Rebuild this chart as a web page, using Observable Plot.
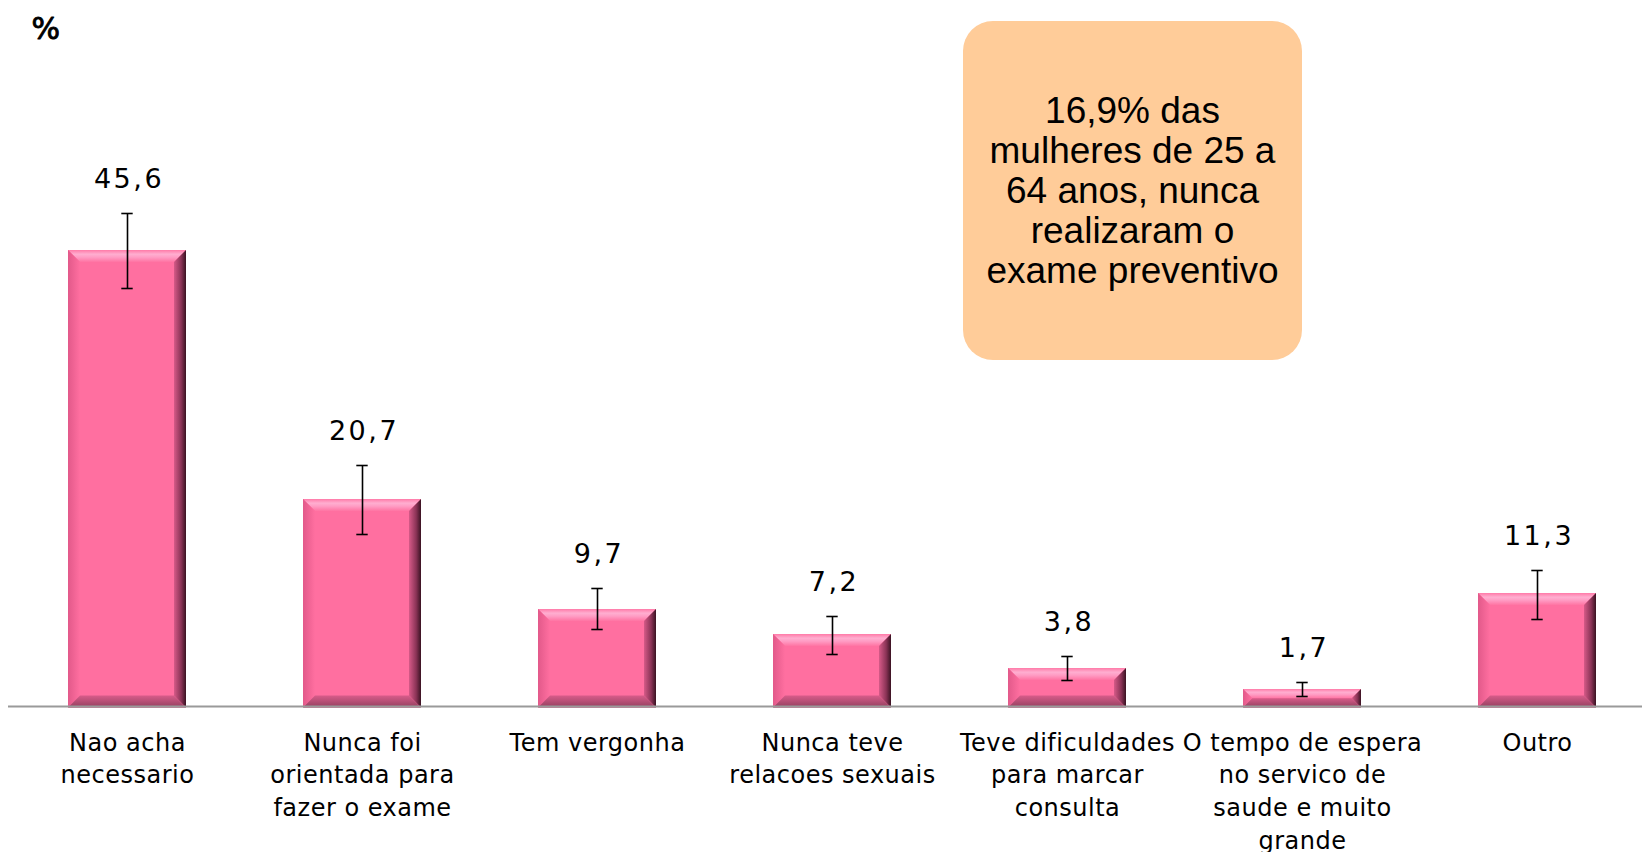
<!DOCTYPE html>
<html>
<head>
<meta charset="utf-8">
<script src="https://cdn.jsdelivr.net/npm/d3@7"></script>
<script src="https://cdn.jsdelivr.net/npm/@observablehq/plot@0.6"></script>
<style>
  body { margin: 0; background: #fff; }
  #wrap { position: relative; width: 1642px; height: 852px; overflow: hidden; }
  #note {
    position: absolute; left: 963px; top: 21px; width: 339px; height: 339px;
    border-radius: 30px; background: #FFCC99;
    display: flex; align-items: center; justify-content: center; text-align: center;
    font-family: "Liberation Sans", Arial, sans-serif; font-size: 37px; line-height: 40px; color: #000;
  }
</style>
</head>
<body>
<div id="wrap"><div id="note"></div></div>
<script>
// ---- data ----
const categories = [
  "Nao acha\nnecessario",
  "Nunca foi\norientada para\nfazer o exame",
  "Tem vergonha",
  "Nunca teve\nrelacoes sexuais",
  "Teve dificuldades\npara marcar\nconsulta",
  "O tempo de espera\nno servico de\nsaude e muito\ngrande",
  "Outro"
];
const values = [45.6, 20.7, 9.7, 7.2, 3.8, 1.7, 11.3];
const lower  = [41.8, 17.2, 7.7, 5.2, 2.6, 1.0, 8.7];
const upper  = [49.3, 24.1, 11.8, 9.0, 5.0, 2.4, 13.6];
const unitLabel = "%";
const noteLines = ["16,9% das", "mulheres de 25 a", "64 anos, nunca", "realizaram o", "exame preventivo"];

const data = categories.map((c, i) => ({cat: c, value: values[i], lo: lower[i], hi: upper[i]}));
const fmt = v => v.toFixed(1).replace(".", ",");

document.getElementById("note").innerHTML = noteLines.join("<br>");

const chart = Plot.plot({
  width: 1642,
  height: 852,
  margin: 0,
  style: {background: "transparent", fontFamily: "'DejaVu Sans', Verdana, sans-serif", color: "#000"},
  x: {type: "band", domain: categories, range: [8.35, 1655.5], paddingInner: 0.5, paddingOuter: 0.25, axis: null},
  y: {domain: [0, 70.6], range: [706, 0], axis: null},
  marks: [
    Plot.barY(data, {x: "cat", y: "value", fill: "#FF6FA0", insetBottom: -1.5}),
    Plot.ruleY([0], {stroke: "#9a9a9a", strokeWidth: 2, insetLeft: 8}),
    Plot.ruleX(data, {x: "cat", y1: "lo", y2: "hi", stroke: "#000", strokeWidth: 1.6}),
    Plot.tickY(data, {x: "cat", y: "lo", stroke: "#000", strokeWidth: 1.6, insetLeft: 53.3, insetRight: 53.3}),
    Plot.tickY(data, {x: "cat", y: "hi", stroke: "#000", strokeWidth: 1.6, insetLeft: 53.3, insetRight: 53.3}),
    Plot.text(data, {x: "cat", y: "hi", text: d => fmt(d.value), dy: -34, dx: 1.5, fontSize: 27, fill: "#000"}),
    Plot.text(data, {x: "cat", y: 0, text: "cat", lineAnchor: "top", dy: 21, fontSize: 24, lineHeight: 1.36, fill: "#000"}),
    Plot.text([unitLabel], {text: d => d, frameAnchor: "top-left", lineAnchor: "top", dx: 31, dy: 17, fontSize: 30, fill: "#000", stroke: "#000", strokeWidth: 0.9})
  ]
});

// bevel styling for bars (derived from Plot's own rects)
const ns = "http://www.w3.org/2000/svg";
const defs = document.createElementNS(ns, "defs");
function grad(id, horizontal, stops) {
  const g = document.createElementNS(ns, "linearGradient");
  g.setAttribute("id", id);
  g.setAttribute("x1", 0); g.setAttribute("y1", 0);
  g.setAttribute("x2", horizontal ? 1 : 0); g.setAttribute("y2", horizontal ? 0 : 1);
  stops.forEach(([o, c]) => {
    const s = document.createElementNS(ns, "stop");
    s.setAttribute("offset", o); s.setAttribute("stop-color", c);
    g.appendChild(s);
  });
  defs.appendChild(g);
}
grad("bvTop", false, [[0, "#ff7aa8"], [0.35, "#ffaed0"], [0.6, "#ff9cc4"], [1, "#ff74a3"]]);
grad("bvRight", true, [[0, "#d65a88"], [0.6, "#8a3356"], [1, "#3a1222"]]);
grad("bvBottom", false, [[0, "#d85c8a"], [1, "#93405f"]]);
grad("bvLeft", true, [[0, "#e2598a"], [1, "#ff6fa0"]]);
chart.insertBefore(defs, chart.firstChild);

const barG = chart.querySelector('g[aria-label="bar"]');
const bev = document.createElementNS(ns, "g");
if (barG.getAttribute("transform")) bev.setAttribute("transform", barG.getAttribute("transform"));
barG.querySelectorAll("rect").forEach(r => {
  const x = +r.getAttribute("x"), y = +r.getAttribute("y");
  const w = +r.getAttribute("width"), h = +r.getAttribute("height");
  const b = Math.min(12, h / 2, w / 2);
  const poly = (pts, fill) => {
    const p = document.createElementNS(ns, "polygon");
    p.setAttribute("points", pts.map(q => q.join(",")).join(" "));
    p.setAttribute("fill", fill);
    bev.appendChild(p);
  };
  poly([[x, y], [x + w, y], [x + w - b, y + b], [x + b, y + b]], "url(#bvTop)");
  poly([[x, y], [x + b, y + b], [x + b, y + h - b], [x, y + h]], "url(#bvLeft)");
  poly([[x + w, y], [x + w, y + h], [x + w - b, y + h - b], [x + w - b, y + b]], "url(#bvRight)");
  poly([[x, y + h], [x + w, y + h], [x + w - b, y + h - b], [x + b, y + h - b]], "url(#bvBottom)");
});
barG.parentNode.insertBefore(bev, barG.nextSibling);

const textGroups = chart.querySelectorAll('g[aria-label="text"]');
if (textGroups[0]) textGroups[0].setAttribute("letter-spacing", "2.5");
if (textGroups[1]) textGroups[1].setAttribute("letter-spacing", "0.5");

document.getElementById("wrap").insertBefore(chart, document.getElementById("note"));
chart.style.position = "absolute";
chart.style.left = "0";
chart.style.top = "0";
</script>
</body>
</html>
